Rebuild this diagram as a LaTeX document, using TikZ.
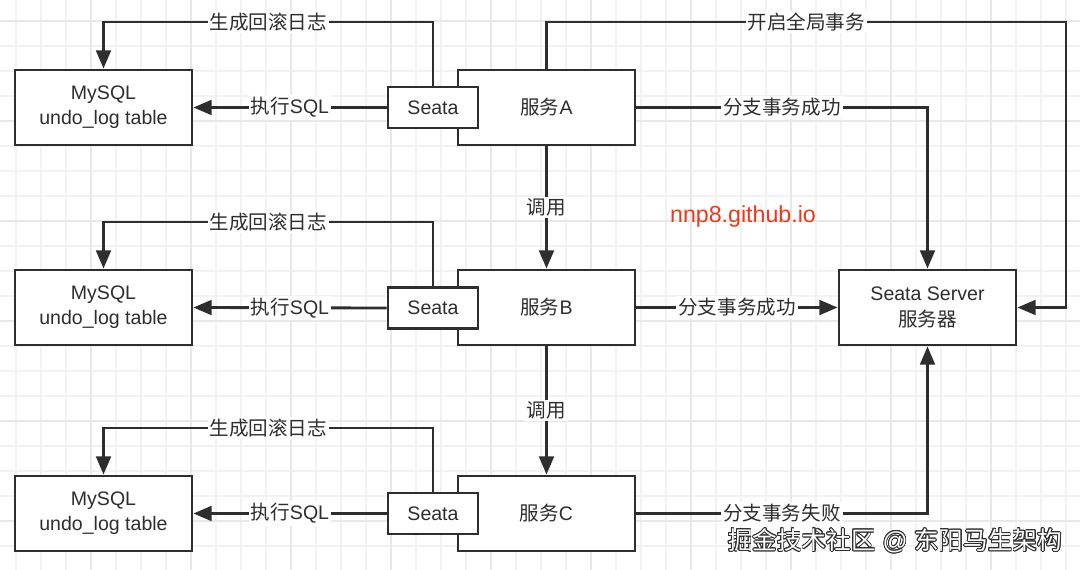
\documentclass[tikz,border=0pt]{standalone}
\usepackage{fontspec}
\setmainfont{Liberation Sans}
\newfontfamily\cjk{Noto Sans CJK SC}
\usepackage{contour}
\usetikzlibrary{arrows.meta}

\definecolor{ink}{HTML}{2E2E2E}
\definecolor{gridminor}{HTML}{F2F2F2}
\definecolor{gridmajor}{HTML}{E8E8E8}
\definecolor{linkred}{HTML}{EA3A1E}

\tikzset{
    box/.style = {draw = ink, line width = 2pt, fill = white, text = ink,
        minimum width = 4.425cm, minimum height = 1.875cm, align = center,
        inner sep = 0pt, font = \fontsize{13.9}{17.5}\selectfont},
    seatabox/.style = {box, minimum width = 2.25cm, minimum height = 1.025cm},
    conn/.style = {draw = ink, line width = 2pt, -{Triangle[length = 13pt, width = 10.5pt]}},
    lbl/.style = {fill = white, text = ink, inner sep = 1.5pt,
        font = \fontsize{13.9}{17}\selectfont},
}

\begin{document}
\begin{tikzpicture}[x = 0.025cm, y = -0.025cm]
    \useasboundingbox[fill = white] (0, 0) rectangle (1080, 570);

    % grid
    \foreach \gx in {16, 41, ..., 1080}
        \draw[gridminor, line width = 0.8pt] (\gx, 0) -- (\gx, 570);
    \foreach \gy in {21, 46, ..., 570}
        \draw[gridminor, line width = 0.8pt] (0, \gy) -- (1080, \gy);
    \foreach \gx in {91, 191, ..., 1080}
        \draw[gridmajor, line width = 0.9pt] (\gx, 0) -- (\gx, 570);
    \foreach \gy in {21, 121, ..., 570}
        \draw[gridmajor, line width = 0.9pt] (0, \gy) -- (1080, \gy);

    % boxes
    \node[box] (mysqlA) at (103.5, 107.5) {MySQL\\undo\_log table};
    \node[box] (mysqlB) at (103.5, 307.5) {MySQL\\undo\_log table};
    \node[box] (mysqlC) at (103.5, 513.5) {MySQL\\undo\_log table};

    \node[box] (svcA) at (546.5, 107.5) {{\cjk 服务}A};
    \node[box] (svcB) at (546.5, 307.5) {{\cjk 服务}B};
    \node[box] (svcC) at (546.5, 513.5) {{\cjk 服务}C};

    \node[seatabox] (seataA) at (433, 107.5) {Seata};
    \node[seatabox] (seataB) at (433, 308) {Seata};
    \node[seatabox] (seataC) at (433, 513.5) {Seata};

    \node[box, font = \fontsize{13.9}{18}\selectfont] (server) at (927.5, 307.5)
        {Seata Server\\{\cjk 服务器}};

    \coordinate (turn) at (1066, 22);

    % undo log and sql
    \foreach \r/\ty in {A/22, B/222, C/428} {
        \draw[conn] (seata\r.north) -- (seata\r.north |- 0, \ty)
            -- node[lbl] {\cjk 生成回滚日志} (mysql\r.north |- 0, \ty) -- (mysql\r.north);
        \draw[conn] (seata\r.west) -- node[lbl] {{\cjk 执行}SQL} (mysql\r.east);
    }

    % calls
    \draw[conn] (svcA.south) -- node[lbl] {\cjk 调用} (svcB.north);
    \draw[conn] (svcB.south) -- node[lbl] {\cjk 调用} (svcC.north);

    % to the server
    \draw[conn] (svcA.north) -- (svcA.north |- turn)
        -- node[lbl] {\cjk 开启全局事务} (turn) -- (turn |- server.east) -- (server.east);
    \draw[conn] (svcA.east) -- node[lbl] {\cjk 分支事务成功} (server.north |- svcA.east)
        -- (server.north);
    \draw[conn] (svcB.east) -- node[lbl] {\cjk 分支事务成功} (server.west);
    \draw[conn] (svcC.east) -- node[lbl] {\cjk 分支事务失败} (server.south |- svcC.east)
        -- (server.south);

    \node[text = linkred, font = \fontsize{16.5}{20}\selectfont] (site) at (743, 217) {nnp8.github.io};

    % watermark
    \node[text = white, font = \fontsize{17.5}{20}\selectfont] (mark) at (895, 541)
        {\contour{ink}{{\cjk 掘金技术社区} @ {\cjk 东阳马生架构}}};
\end{tikzpicture}
\end{document}
